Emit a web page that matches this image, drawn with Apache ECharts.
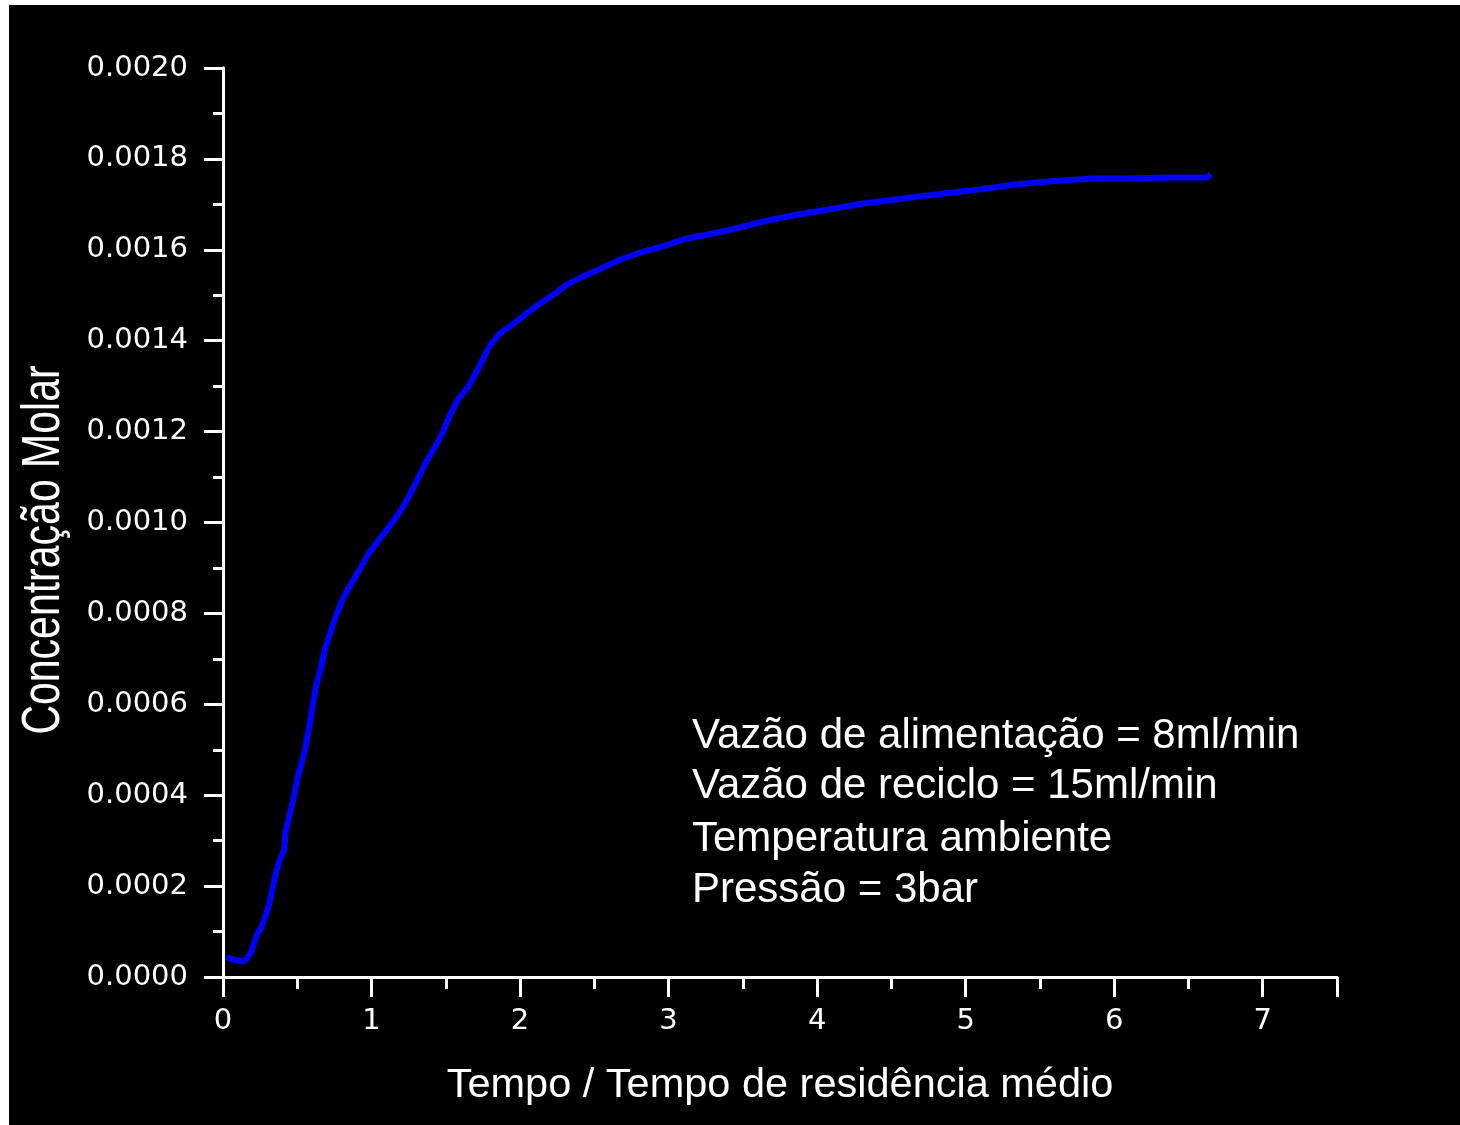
<!DOCTYPE html>
<html>
<head>
<meta charset="utf-8">
<script src="https://cdn.jsdelivr.net/npm/echarts@6/dist/echarts.min.js"></script>
<style>
html,body{margin:0;padding:0;background:#fff;}
#bg{position:absolute;left:9px;top:5px;width:1451px;height:1120px;background:#000;}
#c{position:absolute;left:0;top:0;width:1460px;height:1125px;}
</style>
</head>
<body>
<div id="bg"></div>
<div id="c"></div>
<script>
// Tempo / Tempo de residência médio
const tempo = [0.02,0.05,0.10,0.15,0.19,0.227,0.26,0.283,0.31,0.335,0.357,0.384,0.411,0.422,0.451,0.474,0.50,0.537,0.559,0.581,0.601,0.624,0.66,0.687,0.725,0.765,0.799,0.833,0.873,0.923,0.979,1.035,1.091,1.147,1.21,1.264,1.315,1.372,1.434,1.479,1.529,1.585,1.652,1.708,1.753,1.798,1.865,1.955,2.045,2.135,2.224,2.314,2.426,2.539,2.673,2.808,2.965,3.123,3.302,3.481,3.661,3.863,4.065,4.312,4.581,4.828,5.075,5.345,5.569,5.861,6.086,6.355,6.624,6.651];
// Concentração Molar
const concentracao = [0.000044,0.000040,0.000036,0.000036,0.000055,0.000092,0.000111,0.000130,0.000158,0.000197,0.000230,0.000259,0.000279,0.000321,0.000359,0.000392,0.000435,0.000480,0.000512,0.000550,0.000593,0.000636,0.000681,0.000721,0.000760,0.000798,0.000826,0.000848,0.000871,0.000898,0.000931,0.000955,0.000979,0.001003,0.001033,0.001065,0.001098,0.001136,0.001170,0.001198,0.001237,0.001272,0.001299,0.001332,0.001361,0.001390,0.001416,0.001437,0.001460,0.001482,0.001501,0.001523,0.001542,0.001558,0.001578,0.001594,0.001608,0.001625,0.001636,0.001649,0.001664,0.001677,0.001688,0.001702,0.001713,0.001723,0.001732,0.001744,0.001751,0.001757,0.001757,0.001759,0.001759,0.001766];
const annotations = ["Vazão de alimentação = 8ml/min","Vazão de reciclo = 15ml/min","Temperatura ambiente","Pressão = 3bar"];
const xTitle = "Tempo / Tempo de residência médio";
const yTitle = "Concentração Molar";

const chart = echarts.init(document.getElementById('c'), null, {renderer:'canvas'});
const lineW = 3;
const axisCommon = {
  axisLine:{show:true,lineStyle:{color:'#fff',width:lineW}},
  splitLine:{show:false}
};
const labelFont = {color:'#fff',fontFamily:'DejaVu Sans',fontSize:29};
const pts = tempo.map((t,i)=>[t,concentracao[i]]);
const annFont = '42px "Liberation Sans"';

chart.setOption({
  backgroundColor:'transparent',
  animation:false,
  grid:{left:223,right:123,top:68,bottom:148,containLabel:false},
  xAxis:[
    Object.assign({type:'value',position:'bottom',min:0,max:7.5,interval:1,
      axisTick:{show:true,inside:false,length:20,lineStyle:{color:'#fff',width:lineW}},
      minorTick:{show:true,splitNumber:2,length:12,lineStyle:{color:'#fff',width:lineW}},
      axisLabel:Object.assign({margin:30,showMaxLabel:false,formatter:v=>String(v)},labelFont),
      name:xTitle,nameLocation:'middle',nameGap:88,
      nameTextStyle:{color:'#fff',fontFamily:'Liberation Sans',fontSize:41.5}
    },axisCommon),
    Object.assign({type:'value',position:'top',min:0,max:7.5,interval:1,
      axisTick:{show:true,inside:true,length:18,lineStyle:{color:'#fff',width:lineW}},
      minorTick:{show:true,splitNumber:2,length:8,lineStyle:{color:'#fff',width:lineW}},
      axisLabel:{show:false}
    },axisCommon)
  ],
  yAxis:[
    Object.assign({type:'value',position:'left',min:0,max:0.002,interval:0.0002,
      axisTick:{show:true,inside:false,length:19,lineStyle:{color:'#fff',width:lineW}},
      minorTick:{show:true,splitNumber:2,length:10,lineStyle:{color:'#fff',width:lineW}},
      axisLabel:Object.assign({margin:35,formatter:v=>v.toFixed(4)},labelFont)
    },axisCommon),
    Object.assign({type:'value',position:'right',min:0,max:0.002,interval:0.0002,
      axisTick:{show:true,inside:true,length:14,lineStyle:{color:'#fff',width:lineW}},
      minorTick:{show:true,splitNumber:2,length:4,lineStyle:{color:'#fff',width:lineW}},
      axisLabel:{show:false}
    },axisCommon)
  ],
  graphic:[
    {type:'text',x:44,y:550,rotation:Math.PI/2,scaleY:1.3,
     style:{text:yTitle,fill:'#fff',font:'41px "Liberation Sans"',align:'center',verticalAlign:'middle'}},
    {type:'text',x:692,y:736,style:{text:annotations[0],fill:'#fff',font:annFont,align:'left',verticalAlign:'middle'}},
    {type:'text',x:692,y:786,style:{text:annotations[1],fill:'#fff',font:annFont,align:'left',verticalAlign:'middle'}},
    {type:'text',x:692,y:839,style:{text:annotations[2],fill:'#fff',font:annFont,align:'left',verticalAlign:'middle'}},
    {type:'text',x:692,y:890,style:{text:annotations[3],fill:'#fff',font:annFont,align:'left',verticalAlign:'middle'}}
  ],
  series:[{
    type:'line',xAxisIndex:0,yAxisIndex:0,data:pts,showSymbol:false,symbol:'none',
    lineStyle:{color:'#0000ff',width:6,cap:'butt'},smooth:false
  }]
});
</script>
</body>
</html>
